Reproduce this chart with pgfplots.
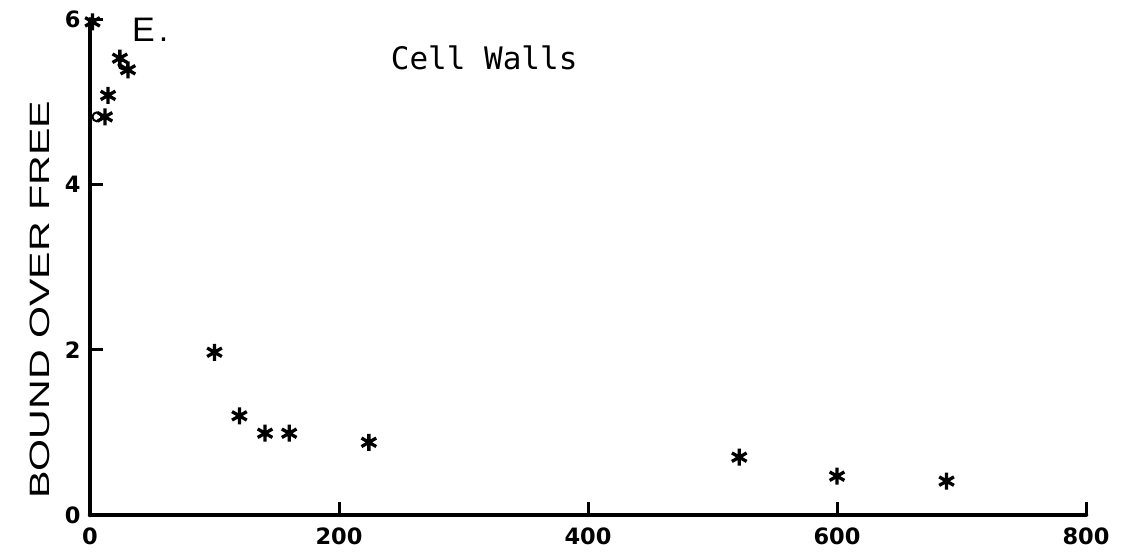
\documentclass[border=0pt]{standalone}
\usepackage{fontspec}
\setmainfont{Liberation Sans}
\newfontfamily\monofont{DejaVu Sans Mono}
\newfontfamily\tickfont{DejaVu Sans}
\usepackage{pgfplots}
\pgfplotsset{compat=1.18}
\begin{document}
\begin{tikzpicture}
\path[use as bounding box] (0,0) rectangle (1123pt,553pt);
\begin{axis}[
  at={(90pt,38pt)}, anchor=origin,
  scale only axis, width=996pt, height=495.6pt,
  xmin=0, xmax=800, ymin=0, ymax=6,
  axis lines=left,
  axis line style={-, line width=4.5pt, line cap=round},
  xtick={0,200,400,600,800}, ytick={0,2,4,6},
  tick align=inside, major tick length=13pt,
  tick style={line width=3pt, black},
  /pgf/number format/assume math mode=true,
  ticklabel style={font=\tickfont\fontsize{22.5}{22.5}\selectfont\bfseries},
  yticklabel style={xshift=-6pt},
  xticklabel style={yshift=-9pt},
  ylabel={\scalebox{1.47}[1]{\fontsize{28}{28}\selectfont BOUND OVER FREE}},
  ylabel style={at={(axis description cs:-0.050,0.434)}, anchor=center},
  clip=false,
]
\addplot[only marks, mark=asterisk, mark size=8.5pt, mark options={line width=3.3pt}] coordinates {
 (2,5.97) (24,5.53) (30.5,5.39) (14.5,5.08) (12,4.82)
 (100,1.97) (120,1.20) (140.6,0.99) (160,0.99) (224,0.88)
 (521.5,0.70) (600,0.47) (688,0.41)
};
\addplot[only marks, mark=o, mark size=4.5pt, mark options={line width=2pt}] coordinates {
 (5.6,4.82) (26.5,5.45)
};
\node[anchor=west, inner sep=0pt] at (axis cs:33.7,5.88) {\fontsize{34}{34}\selectfont E\kern4pt.};
\node[inner sep=0pt] at (axis cs:316.6,5.53) {\monofont\fontsize{31}{31}\selectfont Cell Walls};
\end{axis}
\end{tikzpicture}
\end{document}
